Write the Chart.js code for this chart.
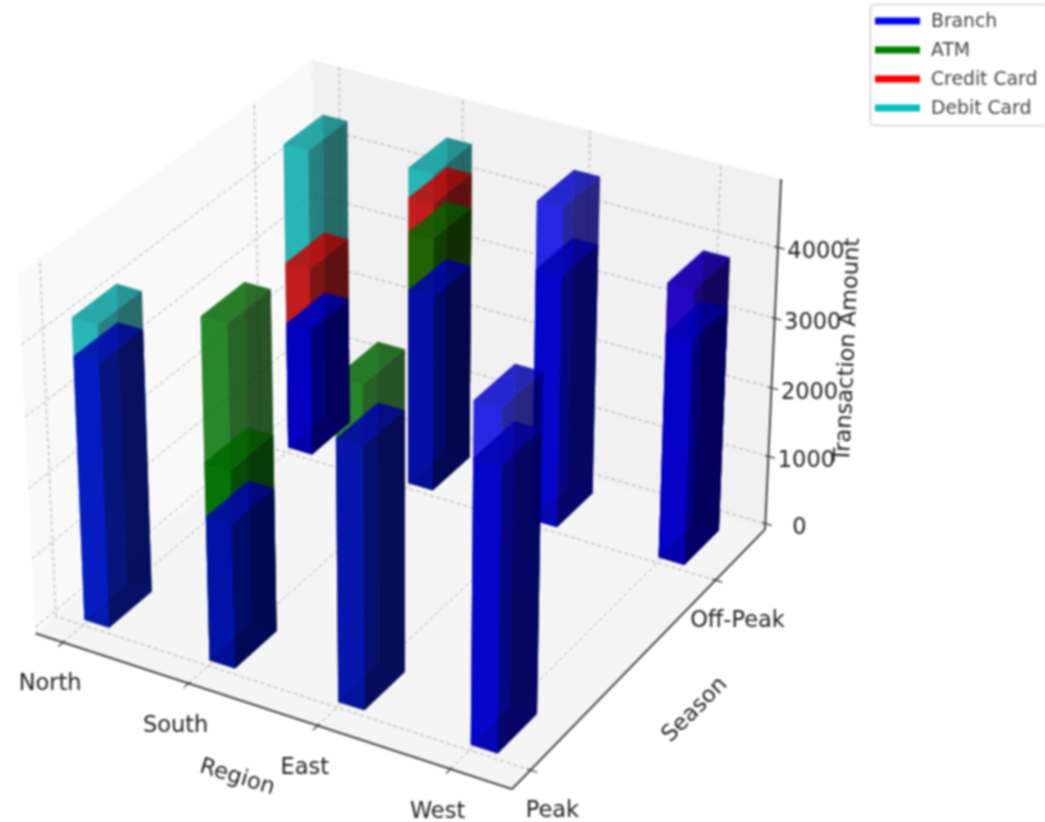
<!DOCTYPE html>
<html>
<head>
<meta charset="utf-8">
<title>Transaction Amount by Region and Season</title>
<script src="https://cdn.jsdelivr.net/npm/chart.js@4/dist/chart.umd.min.js"></script>
<style>
  html, body { margin: 0; padding: 0; background: #fff; }
  #chart { display: block; filter: blur(0.8px); }
</style>
</head>
<body>
<canvas id="chart" width="1045" height="822"></canvas>
<script>
// categories and tick labels
var regions = ['North', 'South', 'East', 'West'];
var seasons = ['Peak', 'Off-Peak'];
var channels = ['Branch', 'ATM', 'Credit Card', 'Debit Card'];
var amountTicks = [0, 1000, 2000, 3000, 4000];

// one row per bar, every bar starts at 0, listed in paint order
var rowRegion  = [0, 0, 1, 1, 1, 2, 0, 0, 0, 0, 2, 1, 1, 1, 1, 2, 2, 3, 3, 3, 3, 3];
var rowSeason  = [0, 0, 0, 0, 0, 0, 1, 1, 1, 1, 0, 1, 1, 1, 1, 1, 1, 0, 0, 1, 1, 1];
var rowChannel = [3, 0, 1, 1, 0, 1, 3, 2, 0, 0, 0, 3, 2, 1, 0, 0, 0, 0, 0, 2, 0, 0];
var rowAmount  = [4270, 3740, 4790, 2800, 2050, 4490, 4460, 2750, 1860, 1860, 3670, 4590, 4170, 3680, 2850, 4600, 3640, 4710, 3945, 3930, 3950, 3240];

var channelColors = [[0, 0, 255], [0, 128, 0], [255, 0, 0], [0, 191, 191]];

// limits of the three axes and the bar footprint
var regionLim = [-0.224, 3.452];
var seasonLim = [-0.093, 1.291];
var amountLim = [-86, 4950];
var barSize = 0.2;
var barShift = 0.01;

// same camera as a default 3d axes: elev 30, azim -60, box 4:4:3
var box = [1.1905, 1.1905, 0.8929];
var right = [0.866025, 0.5, 0];
var up = [-0.25, 0.433013, 0.866025];
var toward = [0.433013, -0.75, 0.5];
var camDist = 10, viewScale = 4585, viewX = 407, viewY = 407;

function view(r, s, a) {
    var p = [
        ((r - regionLim[0]) / (regionLim[1] - regionLim[0]) - 0.5) * box[0],
        ((s - seasonLim[0]) / (seasonLim[1] - seasonLim[0]) - 0.5) * box[1],
        ((a - amountLim[0]) / (amountLim[1] - amountLim[0]) - 0.5) * box[2]
    ];
    var dot = function(v) { return v[0] * p[0] + v[1] * p[1] + v[2] * p[2]; };
    var d = camDist - dot(toward);
    return { x: viewX + viewScale * dot(right) / d, y: viewY - viewScale * dot(up) / d, d: d };
}

function poly(corners) {
    var pts = corners.map(function(c) { return view(c[0], c[1], c[2]); });
    pts.push(pts[0]);
    return pts.map(function(p) { return { x: p.x, y: p.y }; });
}

function faceDataset(label, corners, color) {
    return { label: label, data: poly(corners), showLine: true, fill: 'shape', backgroundColor: color,
             borderWidth: 0, pointRadius: 0, tension: 0 };
}

function lineDataset(label, from, to, color, width, dash) {
    var a = view(from[0], from[1], from[2]), b = view(to[0], to[1], to[2]);
    return { label: label, data: [{ x: a.x, y: a.y }, { x: b.x, y: b.y }], showLine: true, fill: false,
             borderColor: color, borderWidth: width, borderDash: dash || [], pointRadius: 0, tension: 0 };
}

var datasets = [];
var x0 = regionLim[0], x1 = regionLim[1], y0 = seasonLim[0], y1 = seasonLim[1], z0 = amountLim[0], z1 = amountLim[1];

// panes
datasets.push(faceDataset('pane', [[x0, y0, z0], [x0, y1, z0], [x0, y1, z1], [x0, y0, z1]], 'rgb(249,249,249)'));
datasets.push(faceDataset('pane', [[x0, y1, z0], [x1, y1, z0], [x1, y1, z1], [x0, y1, z1]], 'rgb(241,241,241)'));
datasets.push(faceDataset('pane', [[x0, y0, z0], [x1, y0, z0], [x1, y1, z0], [x0, y1, z0]], 'rgb(245,245,245)'));

// grid
var gridColor = 'rgba(140,140,140,0.75)', gridDash = [4, 3];
regions.forEach(function(name, i) {
    datasets.push(lineDataset('grid', [i, y0, z0], [i, y1, z0], gridColor, 1, gridDash));
    datasets.push(lineDataset('grid', [i, y1, z0], [i, y1, z1], gridColor, 1, gridDash));
});
seasons.forEach(function(name, j) {
    datasets.push(lineDataset('grid', [x1, j, z0], [x0, j, z0], gridColor, 1, gridDash));
    datasets.push(lineDataset('grid', [x0, j, z0], [x0, j, z1], gridColor, 1, gridDash));
});
amountTicks.forEach(function(v) {
    datasets.push(lineDataset('grid', [x0, y0, v], [x0, y1, v], gridColor, 1, gridDash));
    datasets.push(lineDataset('grid', [x0, y1, v], [x1, y1, v], gridColor, 1, gridDash));
});

// axis lines and ticks
var axisColor = '#333';
datasets.push(lineDataset('axis', [x0, y0, z0], [x1, y0, z0], axisColor, 1.8));
datasets.push(lineDataset('axis', [x1, y0, z0], [x1, y1, z0], axisColor, 1.8));
datasets.push(lineDataset('axis', [x1, y1, z0], [x1, y1, z1], axisColor, 1.8));
regions.forEach(function(name, i) {
    datasets.push(lineDataset('tick', [i, y0 + 0.008, z0], [i, y0 - 0.022, z0], axisColor, 1.2));
});
seasons.forEach(function(name, j) {
    datasets.push(lineDataset('tick', [x1 - 0.025, j, z0], [x1 + 0.05, j, z0], axisColor, 1.2));
});
amountTicks.forEach(function(v) {
    datasets.push(lineDataset('tick', [x1 - 0.025, y1, v], [x1 + 0.05, y1, v], axisColor, 1.2));
});

// bars: all six faces are drawn, far to near, so the back edges show through
var light = [-0.6667, -0.6667, 0.3333];
function faceColor(rgb, normal, deep) {
    var s = normal[0] * light[0] + normal[1] * light[1] + normal[2] * light[2];
    var f = (0.3 + 0.7 * (s + 1) / 2) * deep;
    return 'rgba(' + Math.round(rgb[0] * f) + ',' + Math.round(rgb[1] * f) + ',' + Math.round(rgb[2] * f) + ',0.6)';
}

// branch bars that are not the tallest at their spot read darker in the reference
function isTallest(k) {
    return rowAmount.every(function(v, m) {
        return rowRegion[m] !== rowRegion[k] || rowSeason[m] !== rowSeason[k] || v <= rowAmount[k];
    });
}

rowAmount.forEach(function(amount, k) {
    var ax = rowRegion[k] + barShift, bx = ax + barSize, ay = rowSeason[k], by = ay + barSize;
    var rgb = channelColors[rowChannel[k]];
    var deep = rowChannel[k] === 0 && !isTallest(k) ? 0.88 : 1;
    var faces = [
        { n: [0, 0, -1], c: [[ax, ay, 0], [bx, ay, 0], [bx, by, 0], [ax, by, 0]] },
        { n: [0, 0, 1], c: [[ax, ay, amount], [bx, ay, amount], [bx, by, amount], [ax, by, amount]] },
        { n: [0, -1, 0], c: [[ax, ay, 0], [bx, ay, 0], [bx, ay, amount], [ax, ay, amount]] },
        { n: [0, 1, 0], c: [[ax, by, 0], [bx, by, 0], [bx, by, amount], [ax, by, amount]] },
        { n: [-1, 0, 0], c: [[ax, ay, 0], [ax, by, 0], [ax, by, amount], [ax, ay, amount]] },
        { n: [1, 0, 0], c: [[bx, ay, 0], [bx, by, 0], [bx, by, amount], [bx, ay, amount]] }
    ];
    faces.forEach(function(f) {
        f.d = f.c.reduce(function(sum, c) { return sum + view(c[0], c[1], c[2]).d; }, 0) / 4;
    });
    faces.sort(function(a, b) { return b.d - a.d; });
    faces.forEach(function(f) {
        datasets.push(faceDataset(channels[rowChannel[k]], f.c, faceColor(rgb, f.n, deep)));
    });
});

// text: axis labels, tick labels and the legend box
var textPlugin = {
    id: 'textLayer',
    afterDraw: function(chart) {
        var ctx = chart.ctx, sx = chart.scales.x, sy = chart.scales.y;
        function label(text, p, dx, dy, angle, font, color) {
            ctx.save();
            ctx.translate(sx.getPixelForValue(p.x) + dx, sy.getPixelForValue(p.y) + dy);
            ctx.rotate(angle * Math.PI / 180);
            ctx.font = font;
            ctx.fillStyle = color;
            ctx.textAlign = 'center';
            ctx.textBaseline = 'middle';
            ctx.fillText(text, 0, 0);
            ctx.restore();
        }
        var font = '22.5px "DejaVu Sans"', dark = '#222';
        regions.forEach(function(name, i) {
            label(name, view(i, y0, z0), -13, 42 + Math.min(i, 1), 0, font, dark);
        });
        seasons.forEach(function(name, j) {
            label(name, view(x1, j, z0), 22, 41, 0, font, dark);
        });
        amountTicks.forEach(function(v) {
            label(String(v), view(x1, y1, v), v === 0 ? 34 : 38, 5, 0, font, dark);
        });
        label('Region', view(1.55, y0, z0), -22, 71, 17, font, dark);
        label('Season', view(x1, 0.5, z0), 69, 38, -45, font, dark);
        label('Transaction Amount', view(x1, y1, 2200), 76, -24, -87.5, font, dark);

        // legend
        ctx.save();
        ctx.fillStyle = '#fff';
        ctx.strokeStyle = '#d0d0d0';
        ctx.lineWidth = 1.5;
        ctx.beginPath();
        ctx.roundRect(870.5, 4.5, 190, 121, 4);
        ctx.fill();
        ctx.stroke();
        channels.forEach(function(name, i) {
            var ly = 21 + i * 29;
            var c = channelColors[i];
            ctx.fillStyle = 'rgb(' + c.join(',') + ')';
            ctx.fillRect(875, ly - 3.5, 45, 7);
            ctx.fillStyle = '#444';
            ctx.font = '18.8px "DejaVu Sans"';
            ctx.textAlign = 'left';
            ctx.textBaseline = 'middle';
            ctx.fillText(name, 931, ly + 1);
        });
        ctx.restore();
    }
};

// chart.js paints the last dataset first
datasets.reverse();

new Chart(document.getElementById('chart').getContext('2d'), {
    type: 'scatter',
    data: { datasets: datasets },
    plugins: [textPlugin],
    options: {
        responsive: false,
        animation: false,
        layout: { padding: 0 },
        scales: {
            x: { type: 'linear', min: 0, max: 1045, display: false },
            y: { type: 'linear', min: 0, max: 822, reverse: true, display: false }
        },
        plugins: {
            legend: { display: false },
            tooltip: { enabled: false }
        }
    }
});
</script>
</body>
</html>
